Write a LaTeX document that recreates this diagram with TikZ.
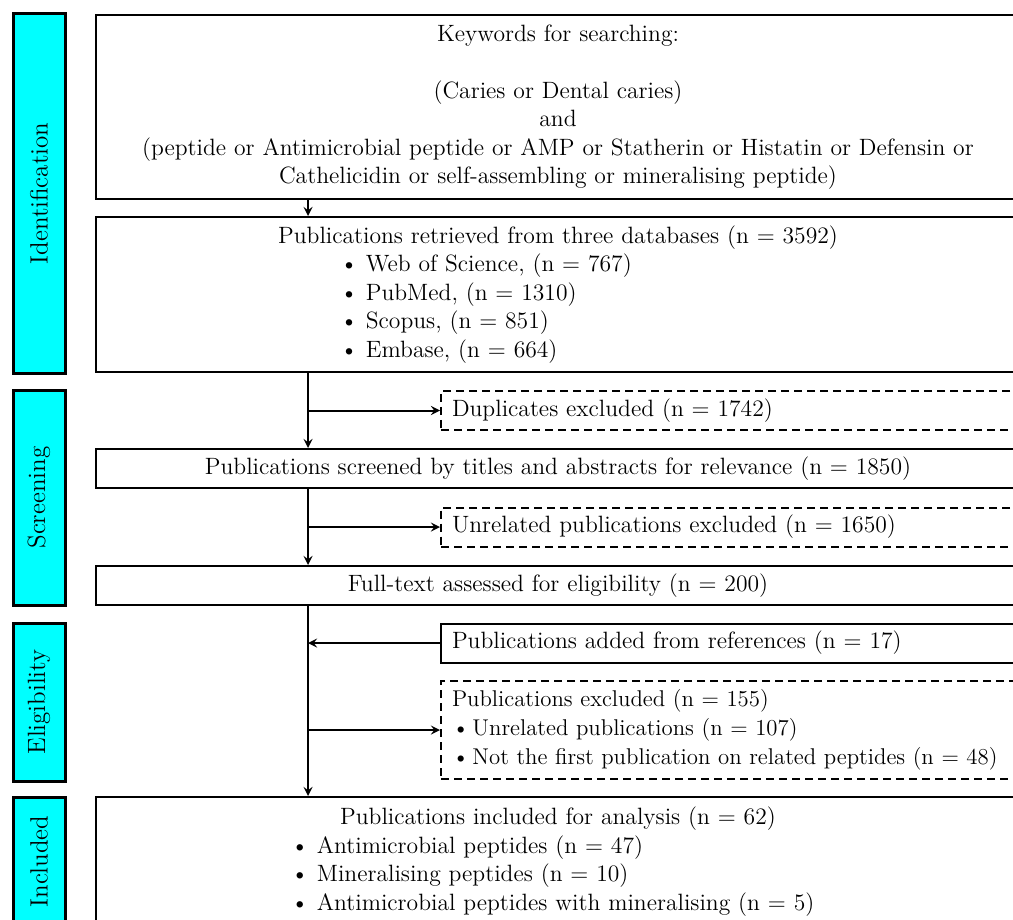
\documentclass[tikz,border=0pt]{standalone}
\usepackage{tikz}
\usepackage{xcolor}
\usetikzlibrary{arrows,positioning}
\definecolor{phasecyan}{RGB}{0,255,255}
\newcommand{\bul}[2]{\makebox[#1][l]{\textbullet~#2}}

\begin{document}
\begin{tikzpicture}[
    x=0.5pt, y=-0.5pt,
    box/.style={rectangle, draw, line width=1pt, text width=450pt, inner xsep=6pt, inner ysep=0pt, align=center, font=\fontsize{11.8}{14.25}\selectfont},
    side/.style={rectangle, draw, line width=1pt, text width=310pt, inner xsep=5.5pt, inner ysep=0pt, align=left, anchor=west, font=\fontsize{11.8}{14.25}\selectfont},
    dashbox/.style={side, dash pattern=on 4pt off 2.5pt},
    phase/.style={rectangle, draw, line width=1.5pt, fill=phasecyan, rotate=90, minimum height=26pt, font=\fontsize{12.5}{15}\selectfont},
    arrow/.style={->, >=stealth, line width=1pt}
]
\useasboundingbox (0,0) rectangle (1013,920);
\clip (0,0) rectangle (1013,920);

% Phase bars
\node[phase, minimum width=179.5pt] (ident) at (39,193.5) {Identification};
\node[phase, minimum width=107.5pt] (screen) at (39,497.5) {Screening};
\node[phase, minimum width=79pt] (elig) at (39,702) {Eligibility};
\node[phase, minimum width=64.5pt] (incl) at (39,861.5) {Included};

% Main column
\coordinate (spine) at (308,0);
\node[box, minimum height=92pt] (keywords) at (558,107) {Keywords for searching:\\ \mbox{}\\ (Caries or Dental caries)\\ and\\ (peptide or Antimicrobial peptide or AMP or Statherin or Histatin or Defensin or\\ Cathelicidin or self-assembling or mineralising peptide)};
\node[box, minimum height=77.5pt] (retrieved) at (558,294.5) {Publications retrieved from three databases (n = 3592)\\
    \bul{218pt}{Web of Science, (n = 767)}\\
    \bul{218pt}{PubMed, (n = 1310)}\\
    \bul{218pt}{Scopus, (n = 851)}\\
    \bul{218pt}{Embase, (n = 664)}};
\node[box, minimum height=19.5pt] (screened) at (558,468.5) {Publications screened by titles and abstracts for relevance (n = 1850)};
\node[box, minimum height=19.5pt] (fulltext) at (558,585.5) {Full-text assessed for eligibility (n = 200)};
\node[box, minimum height=64.5pt] (included) at (558,861.5) {Publications included for analysis (n = 62)\\
    \bul{267pt}{Antimicrobial peptides (n = 47)}\\
    \bul{267pt}{Mineralising peptides (n = 10)}\\
    \bul{267pt}{Antimicrobial peptides with mineralising (n = 5)}};

% Side boxes
\node[dashbox, minimum height=19.5pt] (dup) at (440,410.5) {Duplicates excluded (n = 1742)};
\node[dashbox, minimum height=19.5pt] (unrel) at (440,527) {Unrelated publications excluded (n = 1650)};
\node[side, minimum height=19.5pt] (added) at (440,643) {Publications added from references (n = 17)};
\node[dashbox, minimum height=49pt, font=\fontsize{11.4}{14.5}\selectfont] (excl) at (440,730) {Publications excluded (n = 155)\\
    \textbullet\hspace{1.5pt}Unrelated publications (n = 107)\\
    \textbullet\hspace{1.5pt}Not the first publication on related peptides (n = 48)};

% Arrows
\draw[arrow] (keywords.south -| spine) -- (retrieved.north -| spine);
\draw[arrow] (retrieved.south -| spine) -- (screened.north -| spine);
\draw[arrow] (dup.west -| spine) -- (dup.west);
\draw[arrow] (screened.south -| spine) -- (fulltext.north -| spine);
\draw[arrow] (unrel.west -| spine) -- (unrel.west);
\draw[arrow] (fulltext.south -| spine) -- (included.north -| spine);
\draw[arrow] (added.west) -- (added.west -| spine);
\draw[arrow] (excl.west -| spine) -- (excl.west);

\end{tikzpicture}
\end{document}
